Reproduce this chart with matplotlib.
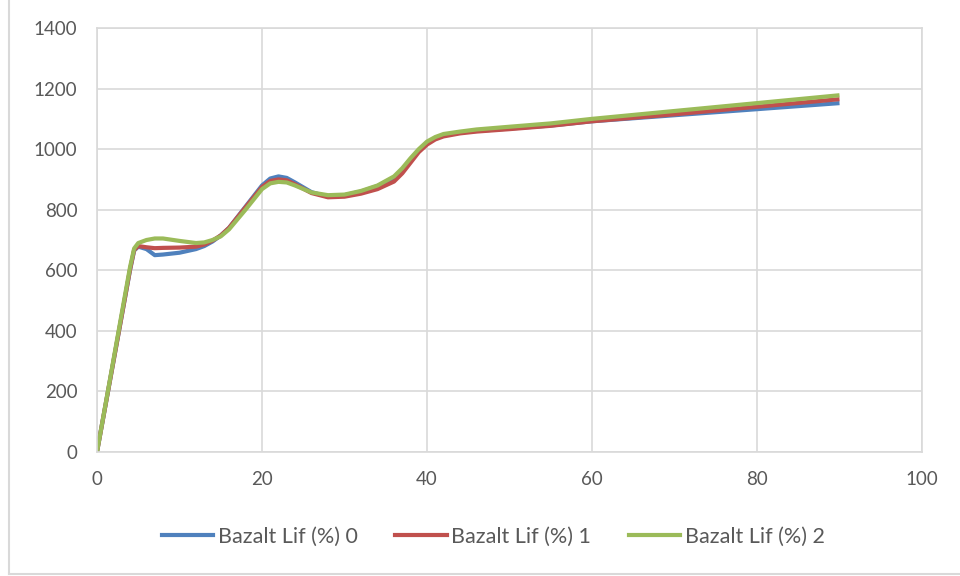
import matplotlib.pyplot as plt
from matplotlib.lines import Line2D

# values
x = [0, 1, 2, 3, 4, 4.5, 5, 6, 7, 8, 10, 12, 13, 14, 15, 16, 18, 20, 21, 22, 23, 24,
     26, 28, 30, 32, 34, 36, 37, 38, 39, 40, 41, 42, 44, 46, 50, 55, 60, 70, 80, 90]

lif_0 = [0, 150, 300, 450, 600, 665, 678, 670, 650, 652, 658, 670, 680, 695, 715, 740,
         810, 880, 903, 910, 905, 890, 858, 843, 848, 860, 878, 905, 930, 962, 995, 1020,
         1035, 1045, 1055, 1060, 1068, 1078, 1092, 1112, 1132, 1152]
lif_1 = [0, 150, 300, 450, 602, 667, 680, 676, 673, 674, 675, 678, 685, 698, 715, 740,
         808, 875, 895, 900, 897, 884, 855, 841, 843, 853, 868, 893, 920, 955, 990, 1015,
         1032, 1042, 1052, 1058, 1066, 1077, 1092, 1115, 1140, 1165]
lif_2 = [0, 152, 305, 458, 610, 672, 690, 700, 705, 705, 697, 690, 692, 700, 712, 735,
         800, 868, 887, 892, 890, 880, 857, 848, 850, 862, 880, 910, 937, 970, 1000, 1025,
         1040, 1050, 1058, 1065, 1074, 1085, 1100, 1126, 1152, 1178]

labels = ["Bazalt Lif (%) 0", "Bazalt Lif (%) 1", "Bazalt Lif (%) 2"]
colors = ["#4F81BD", "#C0504D", "#9BBB59"]

plt.rcParams["font.family"] = ["Lato", "DejaVu Sans"]

fig = plt.figure(figsize=(9.6, 5.76), dpi=100)
ax = fig.add_axes([97 / 960, 124 / 576, 825 / 960, 424 / 576])

for ys, lab, c in zip([lif_0, lif_1, lif_2], labels, colors):
    ax.plot(x, ys, color=c, lw=3.0, label=lab, solid_capstyle="butt",
            solid_joinstyle="round")

ax.set_xlim(0, 100)
ax.set_ylim(0, 1400)
ax.set_xticks(range(0, 101, 20))
ax.set_yticks(range(0, 1401, 200))
ax.grid(True, color="#D9D9D9", lw=1.2)
ax.set_axisbelow(True)
for s in ax.spines.values():
    s.set_color("#D9D9D9")
    s.set_linewidth(1.2)
ax.tick_params(length=0, labelsize=13.5, colors="#595959")
ax.tick_params(axis="y", pad=14)
ax.tick_params(axis="x", pad=14)

handles = [Line2D([], [], color=c, lw=3.0) for c in colors]
fig.legend(handles, labels, loc="center", bbox_to_anchor=(493 / 960, 39 / 576), ncol=3,
           frameon=False, fontsize=15.5, labelcolor="#595959", handlelength=2.4,
           handletextpad=0.2, columnspacing=1.75)

# chart area border (left and bottom visible in the reference)
fig.add_artist(Line2D([9 / 960, 9 / 960], [2 / 576, 1], color="#D9D9D9", lw=1.5))
fig.add_artist(Line2D([9 / 960, 1], [2 / 576, 2 / 576], color="#D9D9D9", lw=1.5))

fig.savefig("out.png", dpi=100)
